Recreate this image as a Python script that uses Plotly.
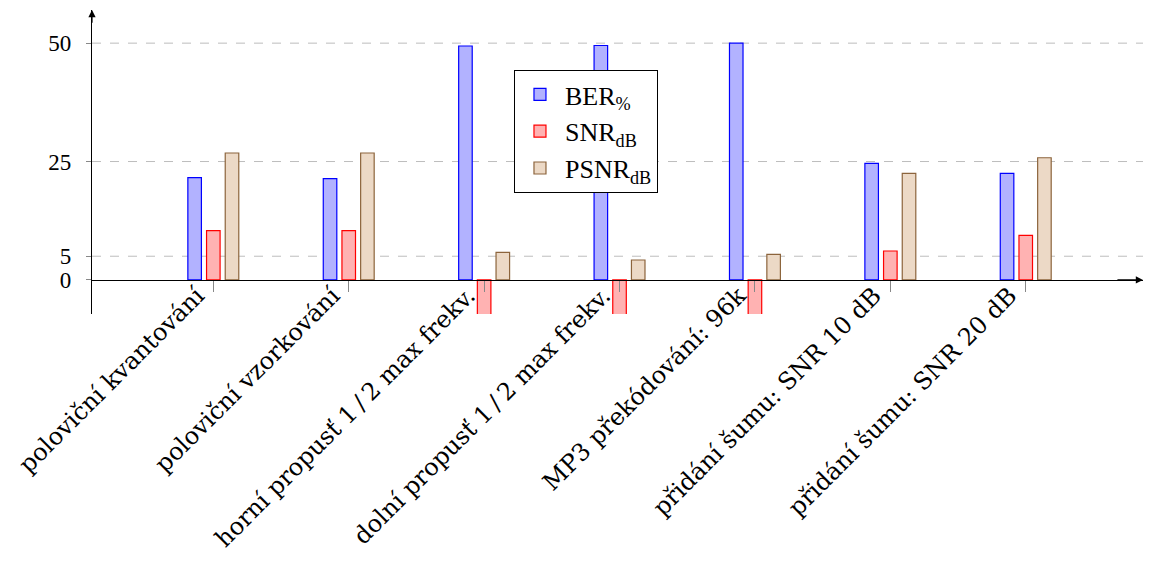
import plotly.graph_objects as go

categories = [
    "poloviční kvantování",
    "poloviční vzorkování",
    "horní propusť 1\u2009/\u20092 max frekv.",
    "dolní propusť 1\u2009/\u20092 max frekv.",
    "MP3 překódování: 96k",
    "přidání šumu: SNR 10 dB",
    "přidání šumu: SNR 20 dB",
]
ber = [21.6, 21.4, 49.4, 49.5, 50.0, 24.6, 22.5]
snr = [10.4, 10.4, -10.0, -10.0, -10.0, 6.1, 9.4]
psnr = [26.8, 26.8, 5.8, 4.2, 5.4, 22.5, 25.8]
y_ticks = [0, 5, 25, 50]

x_idx = list(range(len(categories)))
Y_MIN, Y_MAX = -7.2, 57.0
X_MIN, X_MAX = -0.896, 6.866

fig = go.Figure()
series = [
    ("BER<sub>%</sub>", ber, "rgb(178,178,255)", "rgb(0,0,255)"),
    ("SNR<sub>dB</sub>", snr, "rgb(255,178,178)", "rgb(255,0,0)"),
    ("PSNR<sub>dB</sub>", psnr, "rgb(236,217,198)", "rgb(140,100,60)"),
]
for name, vals, fill, edge in series:
    fig.add_trace(go.Bar(
        x=x_idx, y=vals, name=name,
        marker=dict(color=fill, line=dict(color=edge, width=1.2)),
    ))

# dashed horizontal grid lines (non-zero ticks)
for t in y_ticks:
    if t != 0:
        fig.add_shape(type="line", xref="paper", yref="y", x0=0, x1=1, y0=t, y1=t,
                      line=dict(color="#bdbdbd", width=1, dash="dash"), layer="below")

font_tick = dict(family="DejaVu Serif", size=24, color="black")
fig.update_layout(
    width=1149, height=570,
    margin=dict(l=92, r=6, t=10, b=256, autoexpand=False),
    plot_bgcolor="white", paper_bgcolor="white",
    barmode="group", bargap=0.586, bargroupgap=0.275,
    showlegend=True,
    legend=dict(
        x=0.4015, y=0.8026, xanchor="left", yanchor="top",
        bordercolor="black", borderwidth=1, bgcolor="white",
        font=dict(family="Liberation Serif", size=26, color="black"),
        tracegroupgap=2, itemwidth=40,
    ),
    xaxis=dict(
        range=[X_MIN, X_MAX], tickmode="array", tickvals=x_idx, ticktext=categories,
        tickangle=-45, tickfont=font_tick, automargin=False,
        anchor="free", position=(0 - Y_MIN) / (Y_MAX - Y_MIN),
        showline=True, linecolor="black", linewidth=1.2,
        ticks="outside", ticklen=11, tickcolor="#888", tickwidth=1,
        ticklabelstandoff=-20, ticklabelshift=-16,
        showgrid=False, zeroline=False,
    ),
    yaxis=dict(
        range=[Y_MIN, Y_MAX], tickmode="array", tickvals=y_ticks,
        tickfont=dict(family="Liberation Serif", size=23, color="black"),
        showline=True, linecolor="black", linewidth=1.2, automargin=False,
        ticks="outside", ticklen=5, tickcolor="#888",
        ticklabelstandoff=10,
        showgrid=False, zeroline=False,
    ),
)

# axis arrowheads
fig.add_annotation(x=X_MIN, y=Y_MAX, ax=X_MIN, ay=Y_MAX - 3, xref="x", yref="y",
                   axref="x", ayref="y", text="", showarrow=True,
                   arrowhead=2, arrowsize=1.2, arrowwidth=1.2, arrowcolor="black")
fig.add_annotation(x=X_MAX, y=0, ax=X_MAX - 0.2, ay=0, xref="x", yref="y",
                   axref="x", ayref="y", text="", showarrow=True,
                   arrowhead=2, arrowsize=1.2, arrowwidth=1.2, arrowcolor="black")

fig.write_html("out.html")
